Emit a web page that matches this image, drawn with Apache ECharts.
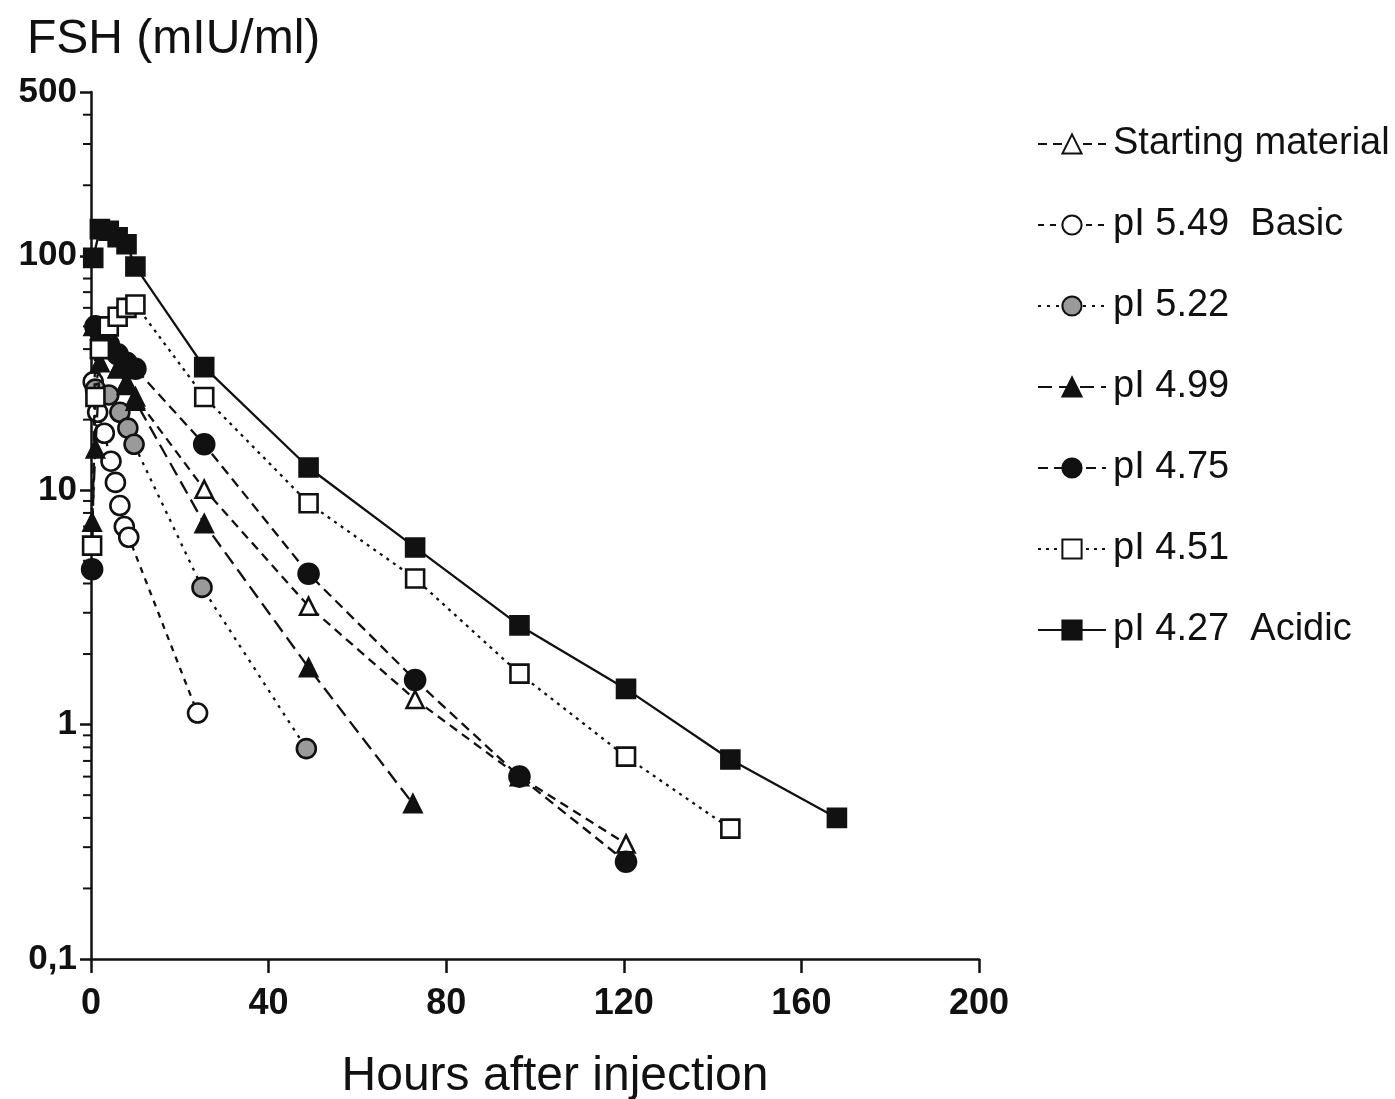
<!DOCTYPE html>
<html>
<head>
<meta charset="utf-8">
<script src="https://cdn.jsdelivr.net/npm/echarts@6/dist/echarts.min.js"></script>
<style>
html,body{margin:0;padding:0;background:#fff;}
#chart{width:1395px;height:1099px;}
</style>
</head>
<body>
<div id="chart"></div>
<script>
// ---- data (hours after injection, FSH mIU/ml) ----
const seriesNames = ['Starting material', 'pI 5.49  Basic', 'pI 5.22', 'pI 4.99', 'pI 4.75', 'pI 4.51', 'pI 4.27  Acidic'];

const startT = [0.5, 2, 4, 6, 8, 10, 25.5, 49, 73, 96.5, 120.5];
const startV = [50, 48, 40, 33, 29, 25, 10.1, 3.2, 1.28, 0.6, 0.31];

const p549T = [0.5, 1.5, 3, 4.5, 5.5, 6.5, 7.5, 8.5, 24];
const p549V = [29, 21.5, 17.5, 13.3, 10.8, 8.6, 7.0, 6.3, 1.12];

const p522T = [1, 4, 6.5, 8.3, 9.7, 25, 48.5];
const p522V = [27, 25.5, 21.5, 18.4, 15.7, 3.85, 0.79];

const p499T = [0.25, 1, 2, 3, 4, 6, 8, 10, 25.5, 49, 72.5];
const p499V = [7.3, 15, 35, 42, 40, 33, 28, 24, 7.2, 1.75, 0.46];

const p475T = [0.25, 1, 2, 4, 6, 8, 10, 25.5, 49, 73, 96.5, 120.5];
const p475V = [4.6, 50, 48, 42, 38, 35, 33, 15.7, 4.4, 1.55, 0.6, 0.26];

const p451T = [0.25, 1, 2, 4, 6, 8, 10, 25.5, 49, 73, 96.5, 120.5, 144];
const p451V = [5.8, 25, 40, 50, 55, 60, 62, 25, 8.8, 4.2, 1.65, 0.73, 0.36];

const p427T = [0.5, 2, 4, 6, 8, 10, 25.5, 49, 73, 96.5, 120.5, 144, 168];
const p427V = [98, 130, 128, 120, 112, 90, 33.5, 12.5, 5.7, 2.65, 1.42, 0.71, 0.40];

const xTicks = [0, 40, 80, 120, 160, 200];
const yMin = 0.1, yMax = 500;
const minorTickValues = [0.2,0.3,0.4,0.5,0.6,0.7,0.8,0.9, 2,3,4,5,6,7,8,9, 20,30,40,50,60,70,80,90, 200,300,400];

// ---- chart ----
const FONT = 'Liberation Sans, Arial, Helvetica, sans-serif';
const INK = '#111';
function pairs(t, v){ return t.map((x,i)=>[x, v[i]]); }

const styles = [
  {data: pairs(startT,startV), symbol:'triangle', size:17, fill:'#fff', dash:[9,6]},
  {data: pairs(p549T,p549V), symbol:'circle', size:19, fill:'#fff', dash:[6,6]},
  {data: pairs(p522T,p522V), symbol:'circle', size:19, fill:'#9a9a9a', dash:[3,6]},
  {data: pairs(p499T,p499V), symbol:'triangle', size:17, fill:INK, dash:[14,7]},
  {data: pairs(p475T,p475V), symbol:'circle', size:20, fill:INK, dash:[10,6]},
  {data: pairs(p451T,p451V), symbol:'rect', size:18, fill:'#fff', dash:[3,5]},
  {data: pairs(p427T,p427V), symbol:'rect', size:18, fill:INK, dash:'solid'}
];

const series = styles.map((s,i)=>({
  name: seriesNames[i],
  type: 'line',
  data: s.data,
  symbol: s.symbol,
  symbolSize: s.size,
  showAllSymbol: true,
  lineStyle: {color: INK, width: 2.3, type: s.dash},
  itemStyle: {color: s.fill, borderColor: INK, borderWidth: 2.6},
  z: 3 + i
}));

series.push({
  type: 'custom',
  name: 'minorTicks',
  silent: true,
  clip: false,
  data: minorTickValues.map(v => [0, v]),
  renderItem: function(params, api){
    const p = api.coord([0, api.value(1)]);
    return {type:'line', shape:{x1:p[0]-8, y1:p[1], x2:p[0], y2:p[1]}, style:{stroke:INK, lineWidth:2}};
  },
  z: 2
});

const chart = echarts.init(document.getElementById('chart'), null, {renderer:'canvas'});
chart.setOption({
  animation: false,
  backgroundColor: '#fff',
  title: {
    text: 'FSH (mIU/ml)', left: 22, top: 11,
    textStyle: {fontFamily: FONT, fontSize: 48, fontWeight: 'normal', color: INK}
  },
  grid: {left: 91, right: 416, top: 92, bottom: 140, containLabel: false, outerBoundsMode: 'none'},
  legend: {
    data: seriesNames,
    orient: 'vertical',
    left: 1032, top: 119,
    itemWidth: 68, itemHeight: 24,
    itemGap: 41,
    textStyle: {fontFamily: FONT, fontSize: 38, color: INK, lineHeight: 40, padding: [0,0,0,2]},
    selectedMode: false
  },
  xAxis: {
    type: 'value', min: 0, max: 200, interval: 40,
    name: 'Hours after injection', nameLocation: 'middle', nameGap: 94,
    nameTextStyle: {fontFamily: FONT, fontSize: 48, color: INK, padding: [0,0,0,40]},
    axisLine: {show: true, lineStyle: {color: INK, width: 2.5}},
    axisTick: {show: true, length: 14, lineStyle: {color: INK, width: 2.5}},
    axisLabel: {fontFamily: FONT, fontSize: 36, fontWeight: 'bold', color: INK, margin: 27},
    splitLine: {show: false}
  },
  yAxis: {
    type: 'log', logBase: 10, min: yMin, max: yMax,
    axisLine: {show: true, lineStyle: {color: INK, width: 2.5}},
    axisTick: {show: true, length: 11, lineStyle: {color: INK, width: 2.5}},
    axisLabel: {
      fontFamily: FONT, fontSize: 35, fontWeight: 'bold', color: INK, margin: 14,
      formatter: function(v){ return Math.abs(v - 0.1) < 1e-9 ? '0,1' : String(Math.round(v)); }
    },
    splitLine: {show: false},
    minorTick: {show: false}
  },
  series: series
});
</script>
</body>
</html>
